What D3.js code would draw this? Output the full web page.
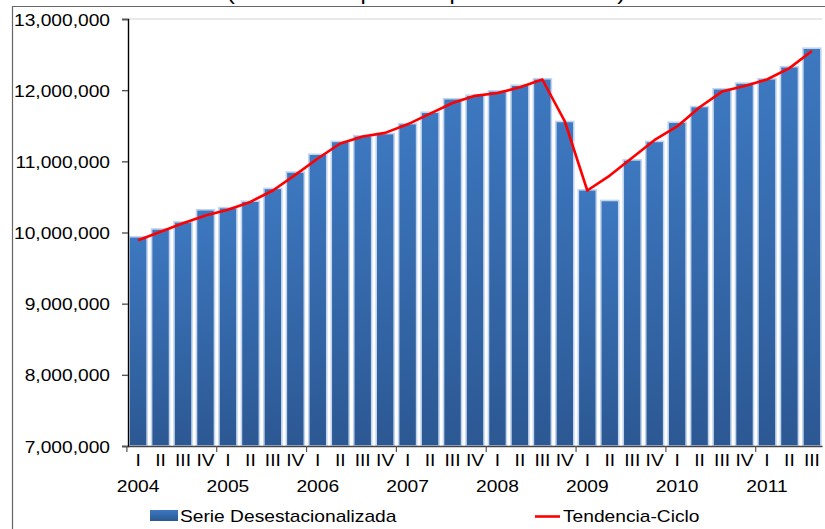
<!DOCTYPE html>
<html>
<head>
<meta charset="utf-8">
<script src="https://cdn.jsdelivr.net/npm/d3@7"></script>
<style>
  body { margin: 0; background: #fff; }
  text { font-family: "Liberation Sans", Arial, sans-serif; fill: #000; }
</style>
</head>
<body>
<div id="chart"></div>
<script>
// quarters 2004 I .. 2011 III
var years = ['2004', '2005', '2006', '2007', '2008', '2009', '2010', '2011'];
var quarterNames = ['I', 'II', 'III', 'IV'];
var serie = [9940000, 10050000, 10150000, 10320000, 10350000, 10440000, 10620000, 10850000,
  11100000, 11280000, 11360000, 11390000, 11530000, 11690000, 11880000, 11930000,
  11990000, 12070000, 12160000, 11560000, 10600000, 10450000, 11020000, 11280000,
  11550000, 11770000, 12020000, 12100000, 12160000, 12330000, 12590000];
var tendencia = [9890000, 10010000, 10130000, 10240000, 10320000, 10430000, 10590000, 10810000,
  11040000, 11250000, 11350000, 11400000, 11520000, 11670000, 11820000, 11920000,
  11960000, 12040000, 12150000, 11560000, 10590000, 10800000, 11050000, 11300000,
  11490000, 11760000, 11980000, 12060000, 12150000, 12310000, 12550000];
var yTicks = [7000000, 8000000, 9000000, 10000000, 11000000, 12000000, 13000000];

var W = 825, H = 529;
var sx = 1.2; // text in the source is stretched horizontally

var keys = serie.map(function(d, i) { return i; });
var qLabel = function(i) { return quarterNames[i % 4]; };

var svg = d3.select('#chart').append('svg').attr('width', W).attr('height', H);

var defs = svg.append('defs');
var grad = defs.append('linearGradient').attr('id', 'barGrad')
  .attr('x1', 0).attr('y1', 0).attr('x2', 0).attr('y2', 1);
grad.append('stop').attr('offset', '0%').attr('stop-color', '#3d78c0');
grad.append('stop').attr('offset', '100%').attr('stop-color', '#2c5893');

// outer frame
svg.append('line').attr('x1', 12).attr('x2', W).attr('y1', 6.5).attr('y2', 6.5)
  .attr('stroke', '#666').attr('stroke-width', 1.2);
svg.append('line').attr('x1', 12.5).attr('x2', 12.5).attr('y1', 6).attr('y2', H)
  .attr('stroke', '#666').attr('stroke-width', 1.2);

// title, mostly cut off at top
svg.append('text').attr('x', 227).attr('y', 0)
  .attr('textLength', 398).attr('lengthAdjust', 'spacingAndGlyphs')
  .style('font-size', '20px')
  .text('(Millones de pesos a precios de 2003)');

var x = d3.scaleBand().domain(keys).range([128, 822]).paddingInner(0.2).paddingOuter(0.05);
var y = d3.scaleLinear().domain([7000000, 13000000]).range([446, 19]);

// top grid line
svg.append('line').attr('x1', 128).attr('x2', 822).attr('y1', y(13000000)).attr('y2', y(13000000))
  .attr('stroke', '#d4d4d4').attr('stroke-width', 1.2);

// bars
svg.append('g').selectAll('rect').data(serie).enter().append('rect')
  .attr('x', function(d, i) { return x(i); })
  .attr('y', function(d) { return y(d); })
  .attr('width', x.bandwidth())
  .attr('height', function(d) { return y(7000000) - y(d); })
  .attr('fill', 'url(#barGrad)')
  .attr('stroke', '#c3d5ee')
  .attr('stroke-width', 1.6);

// trend line
var line = d3.line()
  .x(function(d, i) { return x(i) + x.bandwidth() / 2; })
  .y(function(d) { return y(d); });
svg.append('path').datum(tendencia).attr('d', line)
  .attr('fill', 'none').attr('stroke', '#ff0000').attr('stroke-width', 2.6)
  .attr('stroke-linejoin', 'round');

// y axis
var yAxis = svg.append('g').attr('transform', 'translate(128,0)')
  .call(d3.axisLeft(y).tickValues(yTicks).tickFormat(d3.format(',')).tickSizeOuter(0).tickSize(6).tickPadding(0));
yAxis.select('.domain').attr('stroke', '#000').attr('stroke-width', 1.4);
yAxis.selectAll('.tick line').attr('stroke', '#555').attr('stroke-width', 1.4);
yAxis.selectAll('.tick text')
  .attr('x', -15).attr('dy', '0.38em')
  .attr('transform', 'scale(' + sx + ',1)')
  .style('font-size', '16px').style('fill', '#000');

// x axis with quarter labels
var xAxis = svg.append('g').attr('transform', 'translate(0,446)')
  .call(d3.axisBottom(x).tickFormat(qLabel).tickSize(0).tickSizeOuter(0).tickPadding(0));
xAxis.select('.domain').attr('stroke', '#444').attr('stroke-width', 1.4);
xAxis.selectAll('.tick text')
  .attr('y', 20).attr('dy', 0)
  .attr('transform', 'scale(' + sx + ',1)')
  .style('font-size', '16px').style('fill', '#000');

// year ticks and labels
var step = x.step();
var yearG = svg.append('g').selectAll('g').data(years).enter().append('g')
  .attr('transform', function(d, i) { return 'translate(0,446)'; });
yearG.append('line')
  .attr('x1', function(d, i) { return x(i * 4) - (step - x.bandwidth()) / 2; })
  .attr('x2', function(d, i) { return x(i * 4) - (step - x.bandwidth()) / 2; })
  .attr('y1', 0).attr('y2', 6).attr('stroke', '#555').attr('stroke-width', 1.2);
yearG.append('text')
  .attr('transform', function(d, i) { return 'translate(' + (x(i * 4) + x.bandwidth() / 2) + ',46) scale(' + sx + ',1)'; })
  .attr('text-anchor', 'middle')
  .style('font-size', '16px')
  .text(function(d) { return d; });

// legend
var leg = svg.append('g');
leg.append('rect').attr('x', 150).attr('y', 510).attr('width', 28).attr('height', 11)
  .attr('fill', 'url(#barGrad)');
leg.append('text').attr('transform', 'translate(180,522) scale(' + sx + ',1)')
  .style('font-size', '16px').text('Serie Desestacionalizada');
leg.append('line').attr('x1', 535).attr('x2', 560).attr('y1', 516.5).attr('y2', 516.5)
  .attr('stroke', '#ff0000').attr('stroke-width', 2.6);
leg.append('text').attr('transform', 'translate(563,522) scale(' + sx + ',1)')
  .style('font-size', '16px').text('Tendencia-Ciclo');
</script>
</body>
</html>
